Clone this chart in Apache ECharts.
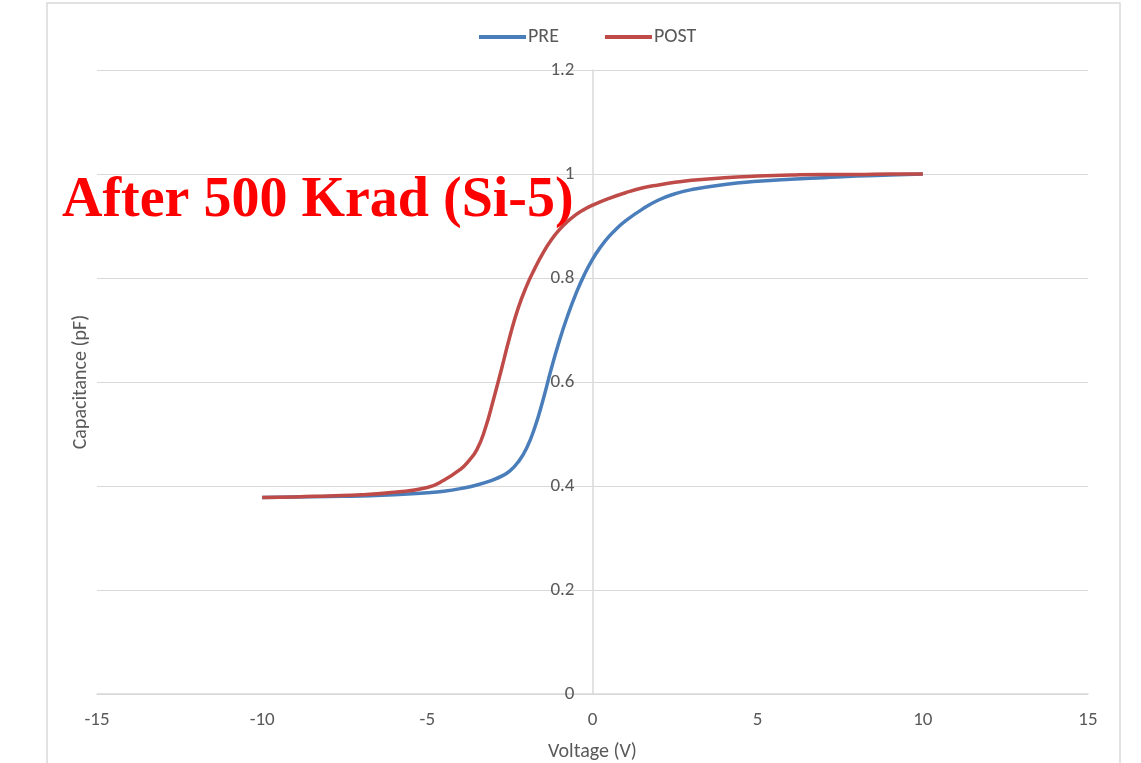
<!DOCTYPE html>
<html>
<head>
<meta charset="utf-8">
<script src="https://cdn.jsdelivr.net/npm/echarts@6/dist/echarts.min.js"></script>
<style>
html,body{margin:0;padding:0;background:#fff;}
#chart{width:1141px;height:763px;}
</style>
</head>
<body>
<div id="chart"></div>
<script>
var preVoltage  = [-10,-9,-8,-7,-6,-5,-4.5,-4,-3.5,-3,-2.75,-2.5,-2.25,-2,-1.75,-1.5,-1.25,-1,-0.75,-0.5,-0.25,0,0.25,0.5,0.75,1,1.5,2,2.5,3,4,5,6,7,8,9,10];
var pre         = [0.378,0.379,0.380,0.381,0.383,0.387,0.390,0.395,0.402,0.412,0.419,0.429,0.446,0.472,0.512,0.565,0.625,0.680,0.728,0.770,0.806,0.836,0.860,0.880,0.896,0.910,0.932,0.950,0.962,0.970,0.980,0.986,0.990,0.993,0.996,0.998,1.000];
var postVoltage = [-10,-9,-8,-7,-6,-5,-4.5,-4,-3.75,-3.5,-3.25,-3,-2.75,-2.5,-2.25,-2,-1.75,-1.5,-1.25,-1,-0.75,-0.5,-0.25,0,0.5,1,1.5,2,2.5,3,4,5,6,7,8,9,10];
var post        = [0.378,0.379,0.381,0.383,0.388,0.397,0.411,0.432,0.448,0.470,0.510,0.566,0.626,0.688,0.742,0.784,0.818,0.848,0.873,0.893,0.909,0.922,0.932,0.940,0.953,0.964,0.973,0.979,0.984,0.988,0.993,0.996,0.998,0.999,0.999,1.000,1.000];
var seriesNames = ['PRE','POST'];
var xTitle = 'Voltage (V)';
var yTitle = 'Capacitance (pF)';
var overlayText = 'After 500 Krad (Si-5)';

function pairs(xs, ys){ return xs.map(function(x,i){ return [x, ys[i]]; }); }

var labelFont = 'Carlito, "Liberation Sans Narrow", "Open Sans", sans-serif';
var chart = echarts.init(document.getElementById('chart'), null, {renderer:'canvas'});
chart.setOption({
  animation:false,
  backgroundColor:'#ffffff',
  grid:{left:97, right:53, top:70, bottom:69, containLabel:false, outerBoundsMode:'none'},
  legend:{
    top:22, left:474, itemGap:46, itemWidth:47, itemHeight:4, icon:'rect',
    textStyle:{color:'#595959', fontSize:20, fontFamily:labelFont, padding:[0,0,0,-3]},
    data:seriesNames
  },
  xAxis:{
    type:'value', min:-15, max:15, interval:5,
    axisLine:{show:true, onZero:true, lineStyle:{color:'#d9d9d9', width:1.5}},
    axisTick:{show:false},
    splitLine:{show:false},
    axisLabel:{color:'#595959', fontSize:19, fontFamily:labelFont, margin:17},
    name:xTitle, nameLocation:'middle', nameGap:48,
    nameTextStyle:{color:'#595959', fontSize:20, fontFamily:labelFont}
  },
  yAxis:{
    type:'value', min:0, max:1.2, interval:0.2,
    offset:-495.5,
    axisLine:{show:true, onZero:false, lineStyle:{color:'#d9d9d9', width:1.5}},
    axisTick:{show:false},
    splitLine:{show:true, lineStyle:{color:'#d9d9d9', width:1}},
    axisLabel:{color:'#595959', fontSize:19, fontFamily:labelFont, margin:18}
  },
  graphic:[
    {type:'rect', shape:{x:47, y:3, width:1073, height:800}, style:{fill:'none', stroke:'#d9d9d9', lineWidth:1.5}, z:-10, silent:true},
    {type:'text', x:81, y:382, rotation:Math.PI/2, style:{text:yTitle, fill:'#595959', font:'20px ' + labelFont, textAlign:'center', textVerticalAlign:'middle'}, silent:true},
    {type:'text', x:62, y:202, z:100, style:{text:overlayText, fill:'#ff0000', font:'bold 56px "Liberation Serif", "Times New Roman", serif', textAlign:'left', textVerticalAlign:'middle'}, silent:true}
  ],
  series:[
    {name:seriesNames[0], type:'line', data:pairs(preVoltage, pre), smooth:0.5, showSymbol:false, symbol:'none',
     lineStyle:{color:'#4a7ebb', width:3.5}, itemStyle:{color:'#4a7ebb'}},
    {name:seriesNames[1], type:'line', data:pairs(postVoltage, post), smooth:0.5, showSymbol:false, symbol:'none',
     lineStyle:{color:'#be4b48', width:3.5}, itemStyle:{color:'#be4b48'}}
  ]
});
</script>
</body>
</html>
